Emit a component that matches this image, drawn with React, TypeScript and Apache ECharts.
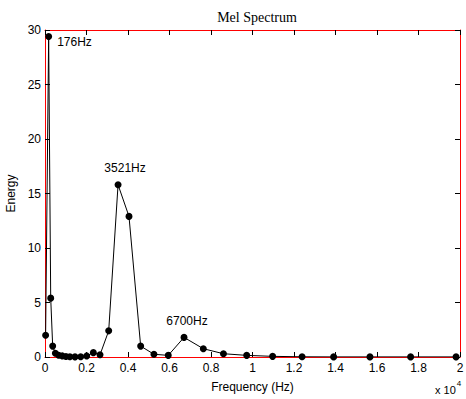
import React, { useEffect, useRef } from "react";
import * as echarts from "echarts";

const freqHz = [30, 176, 275, 370, 500, 660, 835, 1010, 1200, 1445, 1720, 2010, 2330, 2650, 3070, 3521, 4048, 4610, 5250, 5940, 6700, 7630, 8600, 9720, 10970, 12390, 13910, 15660, 17620, 19810];
const energy = [2.0, 29.4, 5.4, 1.0, 0.34, 0.16, 0.1, 0.05, 0.02, 0.01, 0.02, 0.1, 0.4, 0.2, 2.4, 15.8, 12.9, 1.0, 0.25, 0.15, 1.8, 0.76, 0.3, 0.15, 0.06, 0.02, 0.01, 0.01, 0.01, 0.01];
const peakLabels: Record<number, string> = { 1: "176Hz", 15: "3521Hz", 20: "6700Hz" };
const xTicks = [0, 2000, 4000, 6000, 8000, 10000, 12000, 14000, 16000, 18000, 20000];
const yTicks = [0, 5, 10, 15, 20, 25, 30];

export default function App() {
  const ref = useRef<HTMLDivElement>(null);
  useEffect(() => {
    const chart = echarts.init(ref.current!, null, { renderer: "svg" });
    const font = "Liberation Sans, Arial, sans-serif";
    const data = freqHz.map((f, i) => {
      const item: any = { value: [f, energy[i]] };
      const lbl = peakLabels[i];
      if (lbl) {
        let label: any = { show: true, formatter: lbl, color: "#000", fontSize: 12, fontFamily: font };
        if (i === 1) label = { ...label, position: "right", offset: [0, 5] };
        else if (i === 15) label = { ...label, position: "top", offset: [7, -2] };
        else label = { ...label, position: "top", offset: [3, -2] };
        item.label = label;
      }
      return item;
    });
    const mkLine = () => ({ show: true, onZero: false, lineStyle: { color: "red", width: 1 } });
    const mkTick = () => ({ show: true, inside: true, length: 5, lineStyle: { color: "#000", width: 1 } });
    chart.setOption({
      animation: false,
      backgroundColor: "#fff",
      title: {
        text: "Mel Spectrum",
        left: 252,
        top: 5,
        textAlign: "center",
        textStyle: { fontFamily: "Liberation Serif, Times New Roman, serif", fontSize: 14, fontWeight: "normal", color: "#000" },
      },
      grid: { left: 45, right: 6, top: 30, bottom: 42, outerBoundsMode: "none" },
      xAxis: [
        {
          type: "value",
          position: "bottom",
          min: 0,
          max: 20000,
          interval: 2000,
          axisLine: mkLine(),
          axisTick: mkTick(),
          splitLine: { show: false },
          name: "Frequency (Hz)",
          nameLocation: "middle",
          nameGap: 24,
          nameTextStyle: { fontFamily: font, fontSize: 12, color: "#000" },
          axisLabel: {
            color: "#000",
            fontFamily: font,
            fontSize: 12,
            margin: 5,
            formatter: (v: number) => (xTicks.includes(v) ? String(v / 10000) : ""),
          },
        },
        {
          type: "value",
          position: "top",
          min: 0,
          max: 20000,
          interval: 2000,
          axisLine: mkLine(),
          axisTick: mkTick(),
          splitLine: { show: false },
          axisLabel: { show: false },
        },
      ],
      yAxis: [
        {
          type: "value",
          position: "left",
          min: 0,
          max: 30,
          interval: 5,
          axisLine: mkLine(),
          axisTick: mkTick(),
          splitLine: { show: false },
          name: "Energy",
          nameLocation: "middle",
          nameGap: 25,
          nameRotate: 90,
          nameTextStyle: { fontFamily: font, fontSize: 12, color: "#000" },
          axisLabel: {
            color: "#000",
            fontFamily: font,
            fontSize: 12,
            margin: 4,
            formatter: (v: number) => (yTicks.includes(v) ? String(v) : ""),
          },
        },
        {
          type: "value",
          position: "right",
          min: 0,
          max: 30,
          interval: 5,
          axisLine: mkLine(),
          axisTick: mkTick(),
          splitLine: { show: false },
          axisLabel: { show: false },
        },
      ],
      graphic: [
        {
          type: "text",
          left: 435,
          top: 379,
          style: {
            text: "{a|x 10}{b|4}",
            rich: {
              a: { fontFamily: font, fontSize: 11, fill: "#000", padding: [8, 0, 0, 0] },
              b: { fontFamily: font, fontSize: 8, fill: "#000", padding: [0, 0, 6, 1] },
            },
          },
        },
      ],
      series: [
        {
          type: "line",
          data,
          symbol: "circle",
          symbolSize: 7,
          showAllSymbol: true,
          itemStyle: { color: "#000" },
          lineStyle: { color: "#000", width: 1 },
          z: 3,
        },
      ],
    });
    return () => chart.dispose();
  }, []);
  return <div ref={ref} style={{ position: "absolute", left: 0, top: 0, width: 466, height: 399 }} />;
}
